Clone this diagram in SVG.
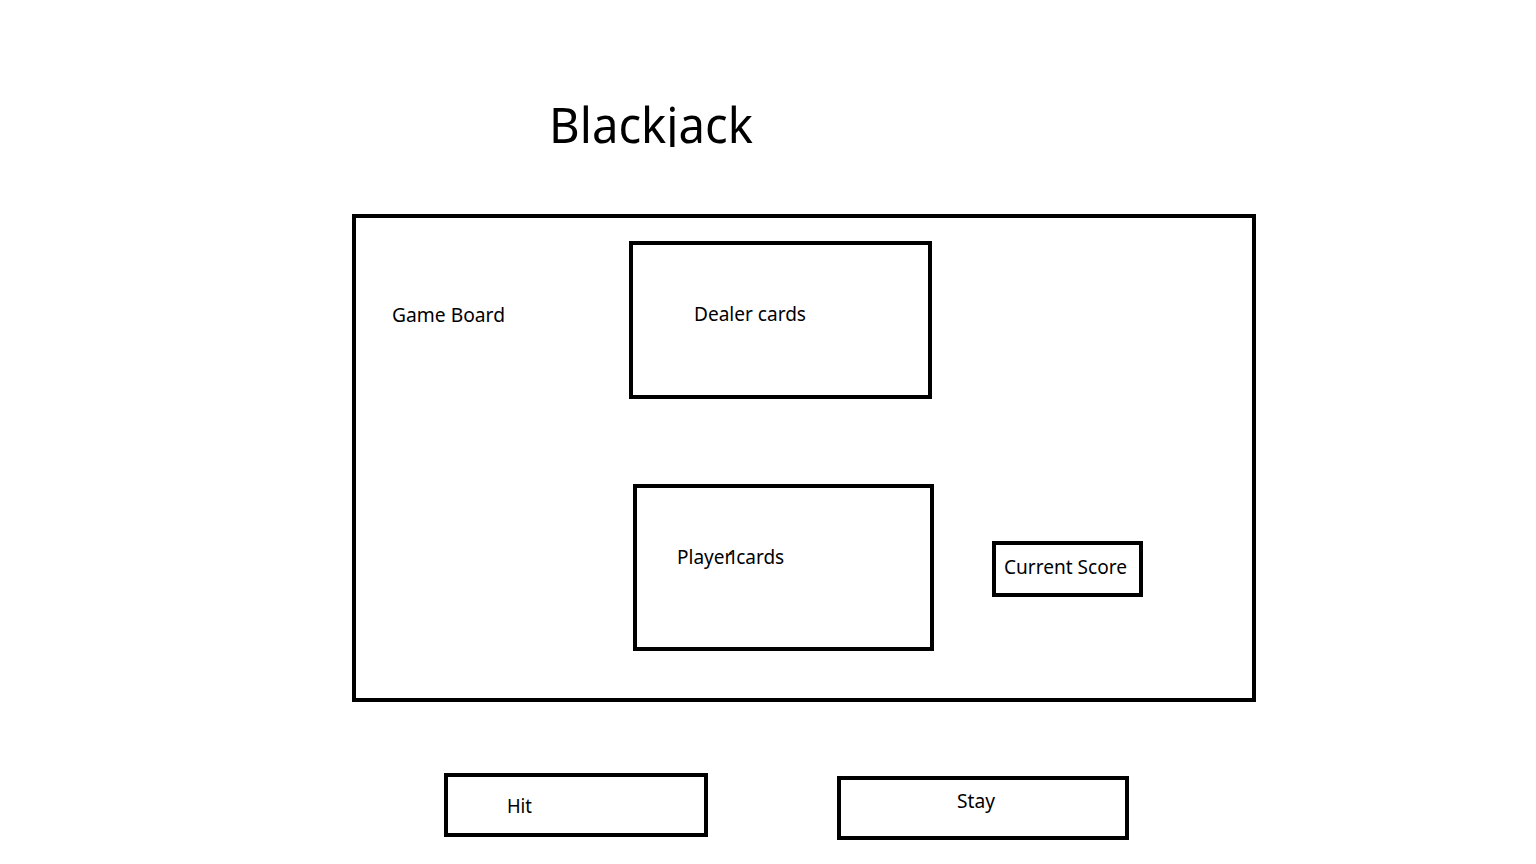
<svg xmlns="http://www.w3.org/2000/svg" width="1536" height="864" viewBox="0 0 1536 864">
<style>
.box{fill:#fff;stroke:#000;stroke-width:4}
.lbl{font-family:"Noto Sans","Open Sans",sans-serif;font-size:19px;fill:#000}
.title{font-family:"Noto Sans","Open Sans",sans-serif;font-size:50px;fill:#000}
</style>
<defs>
<clipPath id="tclip"><rect x="500" y="80" width="320" height="67"/></clipPath>
</defs>
<rect width="1536" height="864" fill="#fff"/>
<g id="title" clip-path="url(#tclip)">
<text class="title" x="549" y="143" textLength="204" lengthAdjust="spacingAndGlyphs">Blackjack</text>
</g>
<g id="game-board">
<rect class="box" x="354" y="216" width="900" height="484"/>
<text class="lbl" x="392" y="322" textLength="113" lengthAdjust="spacingAndGlyphs">Game Board</text>
</g>
<g id="dealer-cards">
<rect class="box" x="631" y="243" width="299" height="154"/>
<text class="lbl" x="694" y="321" textLength="112" lengthAdjust="spacingAndGlyphs">Dealer cards</text>
</g>
<g id="player-cards">
<rect class="box" x="635" y="486" width="297" height="163"/>
<text class="lbl" x="677" y="564">Player<tspan dx="-5">1</tspan><tspan dx="-2">cards</tspan></text>
</g>
<g id="current-score">
<rect class="box" x="994" y="543" width="147" height="52"/>
<text class="lbl" x="1004" y="574" textLength="123" lengthAdjust="spacingAndGlyphs">Current Score</text>
</g>
<g id="hit">
<rect class="box" x="446" y="775" width="260" height="60"/>
<text class="lbl" x="507" y="813" textLength="25" lengthAdjust="spacingAndGlyphs">Hit</text>
</g>
<g id="stay">
<rect class="box" x="839" y="778" width="288" height="60"/>
<text class="lbl" x="957" y="808" textLength="38" lengthAdjust="spacingAndGlyphs">Stay</text>
</g>
<g id="connectors"/>
</svg>
